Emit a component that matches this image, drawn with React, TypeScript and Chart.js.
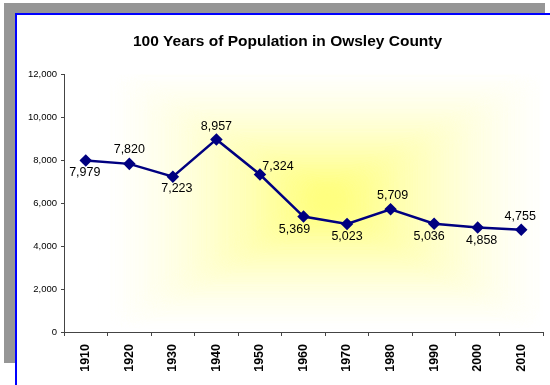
import React, { useEffect, useRef } from "react";
import { Chart, registerables } from "chart.js";

Chart.register(...registerables);

const years = ["1910", "1920", "1930", "1940", "1950", "1960", "1970", "1980", "1990", "2000", "2010"];
const population = [7979, 7820, 7223, 8957, 7324, 5369, 5023, 5709, 5036, 4858, 4755];
const yTicks = [0, 2000, 4000, 6000, 8000, 10000, 12000];
const chartTitle = "100 Years of Population in Owsley County";

// label offsets relative to each point (dx, dy) in px
const labelOffsets: [number, number][] = [
  [-1, 12], [0, -14], [4, 12], [0, -13], [18, -8], [-9, 13],
  [0, 13], [2, -14], [-5, 13], [4, 13], [-1, -13],
];

const bgPlugin = {
  id: "bgGradient",
  beforeDraw(chart: any) {
    const { ctx, chartArea } = chart;
    const { left, right, top, bottom } = chartArea;
    const w = right - left;
    const h = bottom - top;
    // rectangular "from center" path gradient
    const cx = left + w * 0.55;
    const cy = top + h * 0.49;
    const hw = w * 0.46;
    const hh = h * 0.48;
    ctx.save();
    ctx.beginPath();
    ctx.rect(left, top, w, h);
    ctx.clip();
    ctx.fillStyle = "#fff";
    ctx.fillRect(left, top, w, h);
    ctx.filter = "blur(8px)";
    const N = 90;
    for (let i = 0; i < N; i++) {
      const t = i / N;
      const s = 1 - t;
      const blue = Math.round(255 - 135 * Math.pow(t, 1.5));
      ctx.fillStyle = `rgb(255,255,${blue})`;
      ctx.fillRect(cx - hw * s, cy - hh * s, hw * s * 2, hh * s * 2);
    }
    ctx.filter = "none";
    ctx.restore();
  },
};

const labelPlugin = {
  id: "pointLabels",
  afterDatasetsDraw(chart: any) {
    const { ctx } = chart;
    const meta = chart.getDatasetMeta(0);
    ctx.save();
    ctx.font = "12.5px 'Liberation Sans', Arial, sans-serif";
    ctx.fillStyle = "#000";
    ctx.textAlign = "center";
    ctx.textBaseline = "middle";
    meta.data.forEach((pt: any, i: number) => {
      const v = population[i];
      const [dx, dy] = labelOffsets[i];
      ctx.fillText(v.toLocaleString("en-US"), pt.x + dx, pt.y + dy);
    });
    ctx.font = "bold 15.5px 'Liberation Sans', Arial, sans-serif";
    ctx.fillText(chartTitle, 287.5, 42);
    ctx.restore();
  },
};

export default function App() {
  const ref = useRef<HTMLCanvasElement>(null);
  useEffect(() => {
    if (!ref.current) return;
    const chart = new Chart(ref.current, {
      type: "line",
      data: {
        labels: years,
        datasets: [
          {
            data: population,
            borderColor: "#000080",
            backgroundColor: "#000080",
            borderWidth: 2.5,
            pointStyle: "rectRot",
            pointRadius: 4.5,
            pointBackgroundColor: "#000080",
            pointBorderColor: "#000080",
            tension: 0,
          },
        ],
      },
      plugins: [bgPlugin, labelPlugin],
      options: {
        animation: false,
        responsive: false,
        maintainAspectRatio: false,
        layout: { padding: { top: 74, right: 2, left: 0, bottom: 0 } },
        plugins: {
          legend: { display: false },
          title: { display: false },
          tooltip: { enabled: false },
        },
        scales: {
          x: {
            type: "category",
            offset: true,
            grid: {
              offset: true,
              drawOnChartArea: false,
              drawTicks: true,
              tickLength: 4,
              color: "#444",
            },
            border: { color: "#444", width: 1 },
            ticks: {
              minRotation: 90,
              maxRotation: 90,
              padding: 8,
              color: "#000",
              font: { family: "'Liberation Sans', Arial, sans-serif", size: 12.5, weight: "bold" },
            },
            afterFit: (axis: any) => {
              axis.height = 53;
            },
          },
          y: {
            min: 0,
            max: 12000,
            afterBuildTicks: (axis: any) => {
              axis.ticks = yTicks.map((v) => ({ value: v }));
            },
            grid: {
              drawOnChartArea: false,
              drawTicks: true,
              tickLength: 3,
              color: "#444",
            },
            border: { color: "#444", width: 1 },
            ticks: {
              padding: 4,
              color: "#000",
              font: { family: "'Liberation Sans', Arial, sans-serif", size: 9.5 },
              callback: (v: any) => Number(v).toLocaleString("en-US"),
            },
            afterFit: (axis: any) => {
              axis.width = 64;
            },
          },
        },
      },
    });
    return () => chart.destroy();
  }, []);

  return (
    <div style={{ position: "absolute", left: 0, top: 0, width: 550, height: 385, overflow: "hidden", background: "#fff" }}>
      <div style={{ position: "absolute", left: 4, top: 3, width: 541, height: 360, background: "#969696" }} />
      <div
        style={{
          position: "absolute",
          left: 15,
          top: 13,
          width: 560,
          height: 400,
          background: "#fff",
          borderLeft: "2px solid #0000ff",
          borderTop: "2px solid #0000ff",
        }}
      />
      <canvas ref={ref} width={550} height={385} style={{ position: "absolute", left: 0, top: 0 }} />
    </div>
  );
}
